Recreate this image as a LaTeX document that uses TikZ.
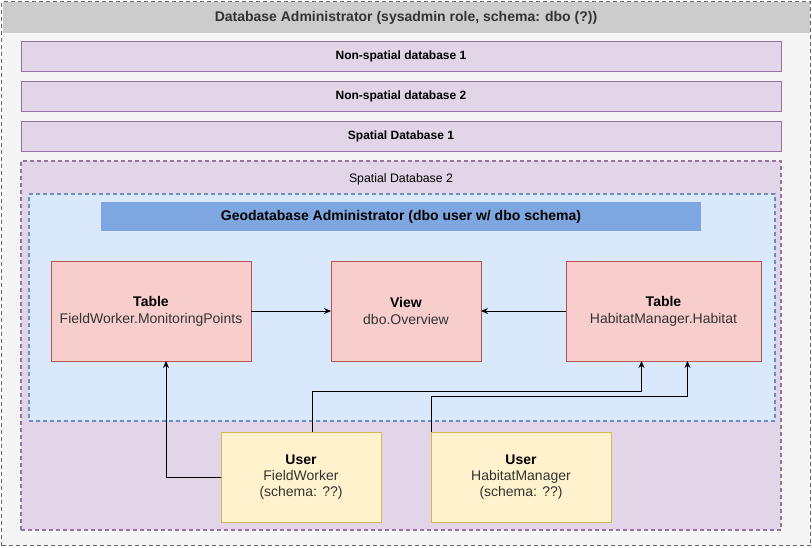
\documentclass[tikz,border=0pt]{standalone}
\usepackage{fontspec}
\setmainfont{Liberation Sans}
\usepackage{xcolor}
\usepackage{tikz}
\usetikzlibrary{arrows.meta}

\definecolor{adminfill}{HTML}{F5F5F5}
\definecolor{adminline}{HTML}{666666}
\definecolor{headfill}{HTML}{CCCCCC}
\definecolor{txtgray}{HTML}{333333}
\definecolor{dbfill}{HTML}{E1D5E7}
\definecolor{dbline}{HTML}{9673A6}
\definecolor{geofill}{HTML}{DAE8FC}
\definecolor{geoline}{HTML}{6C8EBF}
\definecolor{barfill}{HTML}{7EA6E0}
\definecolor{tblfill}{HTML}{F8CECC}
\definecolor{tblline}{HTML}{B85450}
\definecolor{usrfill}{HTML}{FFF2CC}
\definecolor{usrline}{HTML}{D6B656}

\begin{document}
\begin{tikzpicture}[
  x=1pt, y=-1pt,
  font=\fontsize{14}{17}\selectfont,
  every node/.style={inner sep=0pt, outer sep=0pt},
  dashline/.style={line width=1.2pt, dash pattern=on 4pt off 3pt},
  admin/.style={draw=adminline, fill=adminfill, dashline,
                minimum width=809, minimum height=544},
  head/.style={fill=headfill, minimum width=807, minimum height=31,
               text=txtgray, font=\fontsize{14}{17}\selectfont\bfseries},
  dbbox/.style={draw=dbline, fill=dbfill, line width=1pt,
                minimum width=760, minimum height=30,
                font=\fontsize{12}{14}\selectfont\bfseries},
  sdbbox/.style={draw=dbline, fill=dbfill, dashline,
                 minimum width=760, minimum height=369},
  geobox/.style={draw=geoline, fill=geofill, dashline,
                 minimum width=746, minimum height=227},
  bar/.style={fill=barfill, minimum width=600, minimum height=29,
              font=\fontsize{14}{17}\selectfont\bfseries},
  tbl/.style={draw=tblline, fill=tblfill, line width=1pt,
              minimum height=100, align=center, text=txtgray},
  usr/.style={draw=usrline, fill=usrfill, line width=1pt,
              minimum height=90, align=center, text=txtgray,
              font=\fontsize{14}{16}\selectfont},
  arr/.style={-{Stealth[length=7pt,width=6pt]}, line width=1pt},
]
\useasboundingbox (0,0) rectangle (812,547);

% ---- Database administrator ----
\node[admin] (admin) at (406,273.5) {};
\node[head] (adminhead) at (406,17.5)
  {Database Administrator (sysadmin role, schema: dbo (?))};

% ---- Databases ----
\node[dbbox] (nsdb1) at (401,56)  {Non-spatial database 1};
\node[dbbox] (nsdb2) at (401,96)  {Non-spatial database 2};
\node[dbbox] (sdb1)  at (401,136) {Spatial Database 1};
\node[sdbbox] (sdb2) at (401,345.5) {};
\node[font=\fontsize{12.3}{14}\selectfont] (sdb2lbl) at (401,179) {Spatial Database 2};

% ---- Geodatabase ----
\node[geobox] (geo) at (402,307.5) {};
\node[bar] (geoadmin) at (401,216.5)
  {Geodatabase Administrator (dbo user w/ dbo schema)};

\node[tbl, minimum width=200] (tfw)  at (151,311)
  {\textcolor{black}{\textbf{Table}}\\FieldWorker.MonitoringPoints};
\node[tbl, minimum width=150] (view) at (406,311)
  {\textcolor{black}{\textbf{View}}\\dbo.Overview};
\node[tbl, minimum width=195] (thab) at (663.5,311)
  {\textcolor{black}{\textbf{Table}}\\HabitatManager.Habitat};

% ---- Users ----
\node[usr, minimum width=160] (ufw) at (301,477)
  {\textcolor{black}{\textbf{User}}\\FieldWorker\\(schema: ??)};
\node[usr, minimum width=180] (uhm) at (521,477)
  {\textcolor{black}{\textbf{User}}\\HabitatManager\\(schema: ??)};

% Connectors
\foreach \a/\b in {tfw/view, thab/view}
  \draw[arr] (\a) -- (\b);
\draw[arr] (ufw.west) -| ([xshift=15]tfw.south);
\draw[arr] ([xshift=11]ufw.north) -- ++(0,-41) -| ([xshift=-22]thab.south);
\draw[arr] (uhm.north west) -- ++(0,-36) -| ([xshift=24]thab.south);
\end{tikzpicture}
\end{document}
